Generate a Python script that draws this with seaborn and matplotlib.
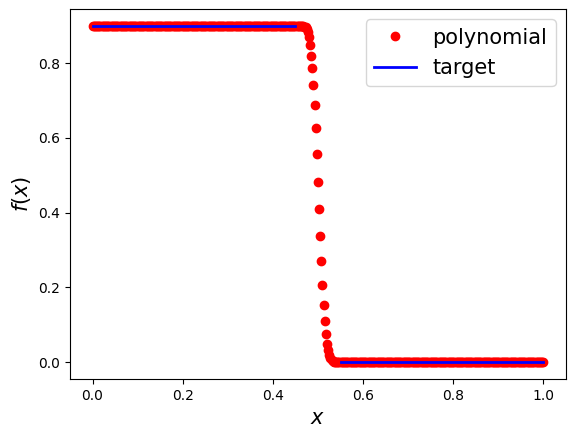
import numpy as np
import pandas as pd
import matplotlib
matplotlib.use("Agg")
import matplotlib.pyplot as plt
import seaborn as sns

# ---- data ----
n_points = 401
x_grid = np.linspace(0.0, 1.0, n_points)
plateau_high = 0.9
plateau_low = 0.0
n_left = 187
n_right = 187
transition_vals = [0.899, 0.898, 0.896, 0.892, 0.884, 0.870, 0.849, 0.820, 0.788,
                   0.742, 0.689, 0.626, 0.556, 0.483, 0.409, 0.337, 0.271, 0.207,
                   0.153, 0.110, 0.076, 0.049, 0.032, 0.019, 0.010, 0.005, 0.002]
y_poly = [plateau_high] * n_left + transition_vals + [plateau_low] * n_right

target_left_end = 0.45
target_right_start = 0.55

poly_df = pd.DataFrame({"x": x_grid, "y": y_poly})
left_x = x_grid[x_grid <= target_left_end + 1e-9]
right_x = x_grid[x_grid >= target_right_start - 1e-9]
left_df = pd.DataFrame({"x": left_x, "y": [plateau_high] * len(left_x)})
right_df = pd.DataFrame({"x": right_x, "y": [plateau_low] * len(right_x)})

fig, ax = plt.subplots(figsize=(5.76, 4.38), dpi=100)
fig.subplots_adjust(left=0.1215, right=0.9826, top=0.9795, bottom=0.1347)

sns.lineplot(data=poly_df, x="x", y="y", ax=ax, estimator=None, errorbar=None,
             marker="o", linestyle="", color="red", markersize=6,
             markeredgecolor="red", markeredgewidth=1.0, label="polynomial")
sns.lineplot(data=left_df, x="x", y="y", ax=ax, estimator=None, errorbar=None,
             color="blue", linewidth=2, label="target")
sns.lineplot(data=right_df, x="x", y="y", ax=ax, estimator=None, errorbar=None,
             color="blue", linewidth=2, label="_nolegend_")

ax.set_xlabel("$x$", fontsize=15)
ax.set_ylabel("$f(x)$", fontsize=15)
ax.set_xticks([0.0, 0.2, 0.4, 0.6, 0.8, 1.0])
ax.set_yticks([0.0, 0.2, 0.4, 0.6, 0.8])
ax.legend(loc="upper right", fontsize=15)

fig.savefig("out.png", dpi=100)
